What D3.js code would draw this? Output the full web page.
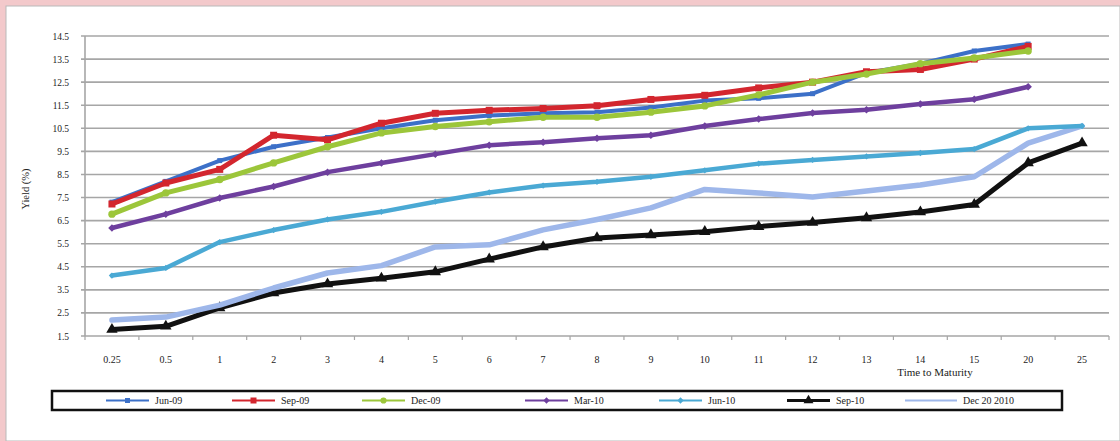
<!DOCTYPE html>
<html>
<head>
<meta charset="utf-8">
<script src="https://cdn.jsdelivr.net/npm/d3@7"></script>
<style>
  html, body { margin: 0; padding: 0; background: #f3c9cb; }
  svg { display: block; }
  text { font-family: "Liberation Serif", "DejaVu Serif", serif; fill: #222; }
</style>
</head>
<body>
<svg id="chart" width="1120" height="441"></svg>
<script>
// Maturities (years) on the category axis
const maturities = ["0.25", "0.5", "1", "2", "3", "4", "5", "6", "7", "8", "9", "10", "11", "12", "13", "14", "15", "20", "25"];
const yTicks = [1.5, 2.5, 3.5, 4.5, 5.5, 6.5, 7.5, 8.5, 9.5, 10.5, 11.5, 12.5, 13.5, 14.5];

// Yield curves (%) — null where the curve has no point
const jun09 = [7.3, 8.2, 9.1, 9.7, 10.1, 10.5, 10.85, 11.05, 11.15, 11.2, 11.4, 11.7, 11.8, 12.0, 12.9, 13.3, 13.85, 14.15, null];
const sep09 = [7.22, 8.13, 8.72, 10.2, 10.0, 10.72, 11.15, 11.28, 11.36, 11.48, 11.75, 11.93, 12.25, 12.5, 12.95, 13.05, 13.5, 14.05, null];
const dec09 = [6.78, 7.7, 8.28, 9.0, 9.7, 10.3, 10.58, 10.78, 10.98, 10.98, 11.2, 11.47, 11.95, 12.5, 12.85, 13.3, 13.55, 13.85, null];
const mar10 = [6.18, 6.78, 7.48, 7.98, 8.6, 9.0, 9.38, 9.77, 9.9, 10.07, 10.2, 10.6, 10.9, 11.16, 11.3, 11.55, 11.76, 12.3, null];
const jun10 = [4.12, 4.45, 5.57, 6.09, 6.55, 6.88, 7.32, 7.72, 8.02, 8.18, 8.4, 8.68, 8.97, 9.13, 9.28, 9.43, 9.6, 10.5, 10.6];
const sep10 = [1.78, 1.92, 2.72, 3.36, 3.75, 4.0, 4.28, 4.83, 5.36, 5.75, 5.88, 6.02, 6.24, 6.42, 6.62, 6.87, 7.2, 9.0, 9.86];
const dec2010 = [2.19, 2.32, 2.84, 3.58, 4.23, 4.55, 5.36, 5.45, 6.1, 6.55, 7.05, 7.85, 7.7, 7.52, 7.78, 8.04, 8.4, 9.86, 10.6];

const seriesNames = ["Jun-09", "Sep-09", "Dec-09", "Mar-10", "Jun-10", "Sep-10", "Dec 20 2010"];
const seriesValues = [jun09, sep09, dec09, mar10, jun10, sep10, dec2010];

// Appearance of each curve
const styles = [
  { color: "#3c70c8", width: 4,   marker: "square",   size: 5 },
  { color: "#d3262e", width: 5,   marker: "square",   size: 7 },
  { color: "#9cc63a", width: 5,   marker: "circle",   size: 6.5 },
  { color: "#6e3f9e", width: 4.5, marker: "diamond",  size: 6 },
  { color: "#4aa9d4", width: 4.5, marker: "diamond",  size: 5 },
  { color: "#111111", width: 5,   marker: "triangle", size: 7.5 },
  { color: "#9eb7ea", width: 5.5, marker: "none",     size: 0 }
];

const svg = d3.select("#chart");
const W = 1120, H = 441;

// White panel inside the pink frame
svg.append("rect").attr("x", 6).attr("y", 6).attr("width", W - 6).attr("height", H - 6)
  .attr("fill", "#ffffff").attr("stroke", "#b9b9b9").attr("stroke-width", 1);

const plot = { left: 85, right: 1109, top: 36, bottom: 336 };

const x = d3.scaleBand().domain(maturities).range([plot.left, plot.right]);
const y = d3.scaleLinear().domain([1.5, 14.5]).range([plot.bottom, plot.top]);

// Horizontal gridlines
svg.append("g").selectAll("line").data(yTicks).join("line")
  .attr("x1", plot.left - 4).attr("x2", plot.right)
  .attr("y1", d => y(d)).attr("y2", d => y(d))
  .attr("stroke", "#a6a6a6").attr("stroke-width", 1.6);

// Left axis line
svg.append("line").attr("x1", plot.left).attr("x2", plot.left)
  .attr("y1", plot.top).attr("y2", plot.bottom)
  .attr("stroke", "#a6a6a6").attr("stroke-width", 1.6);

// Y tick labels
const yAxis = d3.axisLeft(y).tickValues(yTicks).tickFormat(d3.format(".1f")).tickSize(0).tickPadding(16);
const gy = svg.append("g").attr("transform", `translate(${plot.left},0)`).call(yAxis);
gy.select(".domain").remove();
gy.selectAll("text").style("font-family", "'Liberation Serif', serif").style("font-size", "9.5px").attr("fill", "#222");

// Category ticks below the axis
const bounds = d3.range(maturities.length + 1).map(i => plot.left + i * x.bandwidth());
svg.append("g").selectAll("line").data(bounds).join("line")
  .attr("x1", d => d).attr("x2", d => d)
  .attr("y1", plot.bottom).attr("y2", plot.bottom + 4)
  .attr("stroke", "#a6a6a6").attr("stroke-width", 1.2);

// X tick labels
const xAxis = d3.axisBottom(x).tickSize(0).tickPadding(20);
const gx = svg.append("g").attr("transform", `translate(0,${plot.bottom})`).call(xAxis);
gx.select(".domain").remove();
gx.selectAll("text").style("font-family", "'Liberation Serif', serif").style("font-size", "10px").attr("fill", "#222");

// Axis titles
svg.append("text").attr("x", 935).attr("y", 376).attr("text-anchor", "middle")
  .style("font-size", "11px").text("Time to Maturity");
svg.append("text").attr("transform", "translate(29,189) rotate(-90)").attr("text-anchor", "middle")
  .style("font-size", "10.5px").text("Yield (%)");

function markerPath(type, s) {
  const symbolType = {
    square: d3.symbolSquare, circle: d3.symbolCircle,
    diamond: d3.symbolDiamond2, triangle: d3.symbolTriangle
  }[type];
  return d3.symbol().type(symbolType).size(s * s)();
}

const line = d3.line()
  .defined(d => d.v != null)
  .x(d => x(d.m) + x.bandwidth() / 2)
  .y(d => y(d.v));

// Stacking order of the curves, bottom to top
const drawOrder = [5, 6, 4, 3, 0, 1, 2];
drawOrder.forEach(i => {
  const pts = seriesValues[i].map((v, k) => ({ m: maturities[k], v }));
  const st = styles[i];
  const g = svg.append("g");
  g.append("path").datum(pts).attr("d", line)
    .attr("fill", "none").attr("stroke", st.color).attr("stroke-width", st.width)
    .attr("stroke-linejoin", "round").attr("stroke-linecap", "round");
  if (st.marker !== "none") {
    g.selectAll("path.mk").data(pts.filter(d => d.v != null)).join("path").attr("class", "mk")
      .attr("transform", d => `translate(${x(d.m) + x.bandwidth() / 2},${y(d.v)})`)
      .attr("d", markerPath(st.marker, st.size))
      .attr("fill", st.color);
  }
});

// Legend
const legend = svg.append("g");
legend.append("rect").attr("x", 52).attr("y", 391).attr("width", 1010).attr("height", 19)
  .attr("fill", "#fff").attr("stroke", "#111").attr("stroke-width", 2.5);
const legendLineStart = [106, 232, 362, 525, 659, 787, 905];
seriesNames.forEach((name, i) => {
  const st = styles[i];
  const x0 = legendLineStart[i];
  const len = i === 6 ? 52 : 43;
  const gy0 = 400.5;
  legend.append("line").attr("x1", x0).attr("x2", x0 + len).attr("y1", gy0).attr("y2", gy0)
    .attr("stroke", st.color).attr("stroke-width", i === 5 ? 3 : 2);
  if (st.marker !== "none") {
    legend.append("path").attr("transform", `translate(${x0 + len / 2},${gy0})`)
      .attr("d", markerPath(st.marker, Math.max(5, st.size - 1)))
      .attr("fill", st.color);
  }
  legend.append("text").attr("x", x0 + len + 6).attr("y", gy0 + 3.5)
    .style("font-size", "10px").text(name);
});
</script>
</body>
</html>
